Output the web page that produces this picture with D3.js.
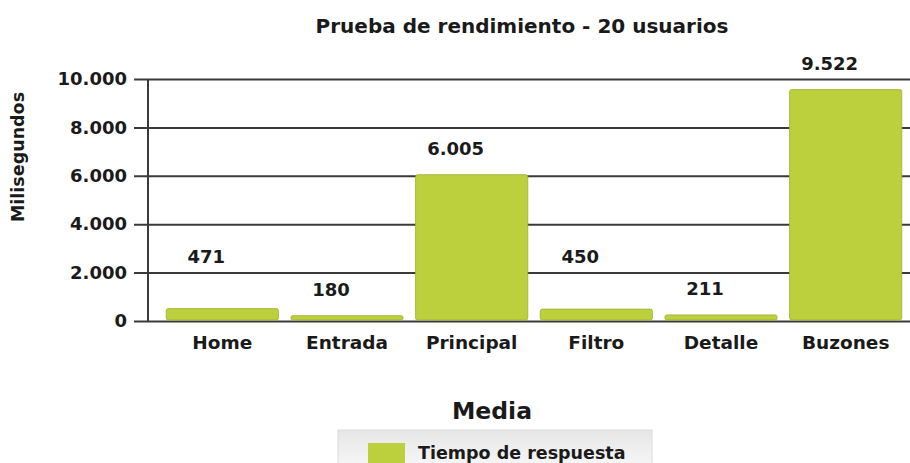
<!DOCTYPE html>
<html>
<head>
  <meta charset="UTF-8">
  <style>
    body { margin: 0; background: #fff; }
    text { font-family: "DejaVu Sans", Verdana, sans-serif; font-weight: bold; fill: #1a1a1a; }
  </style>
</head>
<body>
<script type='text/javascript' src='https://d3js.org/d3.v7.min.js'></script>
<script>
var width = 910, height = 463;

// data
var categories = ['Home', 'Entrada', 'Principal', 'Filtro', 'Detalle', 'Buzones'];
var tiempos = [471, 180, 6005, 450, 211, 9522];
var yTicks = [0, 2000, 4000, 6000, 8000, 10000];
var serieNombre = 'Tiempo de respuesta';

var svg = d3.select('body').append('svg').attr('width', width).attr('height', height);

var x = d3.scaleBand().domain(categories).range([160, 908]).paddingInner(0.1).paddingOuter(0.05);
var y = d3.scaleLinear().domain([0, 10000]).range([321, 79]);

// numbers with a dot as thousands separator
var fmt = d3.formatLocale({decimal: ',', thousands: '.', grouping: [3], currency: ['', '']}).format(',');

// gridlines + tick labels
var yAxis = d3.axisLeft(y).tickValues(yTicks).tickSize(-(width - 134)).tickPadding(8).tickFormat(fmt);
var gy = svg.append('g').attr('transform', 'translate(134,0)').call(yAxis);
gy.select('.domain').remove();
gy.selectAll('.tick line').attr('stroke', '#3a3a3a').attr('stroke-width', 2);
gy.selectAll('.tick text').style('font-size', '18px').attr('x', -7);

// vertical axis line
svg.append('line').attr('x1', 148).attr('x2', 148).attr('y1', y(10000)).attr('y2', y(0))
  .attr('stroke', '#3a3a3a').attr('stroke-width', 2);

// bars
svg.selectAll('rect.bar')
  .data(tiempos)
  .join('rect')
  .attr('class', 'bar')
  .attr('x', function(d, i) { return x(categories[i]); })
  .attr('y', function(d) { return y(d) - 1; })
  .attr('width', x.bandwidth())
  .attr('height', function(d) { return y(0) - y(d); })
  .attr('rx', 2)
  .attr('fill', '#bccf3c')
  .attr('stroke', '#9fb02e')
  .attr('stroke-width', 0.8);

// value labels (staggered like the original)
svg.selectAll('text.val')
  .data(tiempos)
  .join('text')
  .attr('class', 'val')
  .attr('x', function(d, i) { return x(categories[i]) + x.bandwidth() / 2 - 16; })
  .attr('y', function(d, i) { return y(d) - (i % 3 === 0 ? 47 : 21); })
  .attr('text-anchor', 'middle')
  .style('font-size', '18px')
  .text(function(d) { return fmt(d); });

// category labels
svg.selectAll('text.cat')
  .data(categories)
  .join('text')
  .attr('class', 'cat')
  .attr('x', function(d) { return x(d) + x.bandwidth() / 2; })
  .attr('y', 349)
  .attr('text-anchor', 'middle')
  .style('font-size', '18.5px')
  .text(function(d) { return d; });

// title
svg.append('text').attr('x', 522).attr('y', 33).attr('text-anchor', 'middle')
  .style('font-size', '20px').text('Prueba de rendimiento - 20 usuarios');

// y axis title
svg.append('text').attr('transform', 'translate(24,157) rotate(-90)').attr('text-anchor', 'middle')
  .style('font-size', '17.5px').text('Milisegundos');

// legend
svg.append('text').attr('x', 492).attr('y', 419).attr('text-anchor', 'middle')
  .style('font-size', '23.5px').text('Media');

var grad = svg.append('defs').append('linearGradient').attr('id', 'lg').attr('x1', 0).attr('x2', 0).attr('y1', 0).attr('y2', 1);
grad.append('stop').attr('offset', 0).attr('stop-color', '#e6e6e6');
grad.append('stop').attr('offset', 1).attr('stop-color', '#f8f8f8');
svg.append('rect').attr('x', 338).attr('y', 430).attr('width', 314).attr('height', 40)
  .attr('fill', 'url(#lg)').attr('stroke', '#dcdcdc');
svg.append('rect').attr('x', 368).attr('y', 443).attr('width', 37).attr('height', 22).attr('fill', '#bccf3c');
svg.append('text').attr('x', 418).attr('y', 459).style('font-size', '17.5px').text(serieNombre);
</script>
</body>
</html>
